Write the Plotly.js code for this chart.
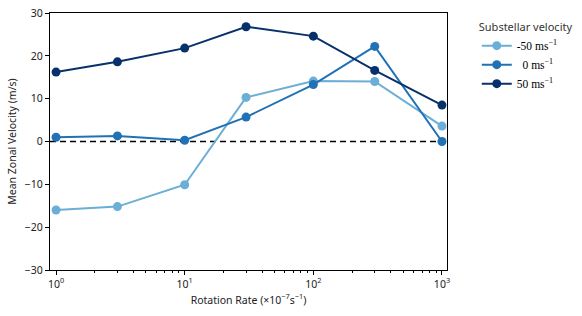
<!DOCTYPE html>
<html><head><meta charset="utf-8">
<script src="https://cdn.plot.ly/plotly-3.0.1.min.js"></script>
<style>html,body{margin:0;padding:0;background:#fff}#chart{width:582px;height:316px}</style>
</head><body><div id="chart"></div>
<script>
const rotationRate = [1, 3, 10, 30, 100, 300, 1000];
const velMinus50 = [-16.0, -15.2, -10.1, 10.3, 14.1, 14.0, 3.6];
const vel0 = [1.0, 1.3, 0.3, 5.7, 13.3, 22.2, 0.0];
const vel50 = [16.2, 18.6, 21.8, 26.8, 24.6, 16.6, 8.5];
const seriesNames = ['-50 ms<sup>−1</sup>', '  0 ms<sup>−1</sup>', '50 ms<sup>−1</sup>'];
const seriesColors = ['#6baed6', '#2171b5', '#08306b'];
const xTickVals = [1, 10, 100, 1000];
const xTickText = ['10<sup>0</sup>', '10<sup>1</sup>', '10<sup>2</sup>', '10<sup>3</sup>'];
const yTickVals = [-30, -20, -10, 0, 10, 20, 30];

const minorVals = [];
for (let d = 1; d < 1000; d *= 10) for (let k = 2; k <= 9; k++) minorVals.push(d * k);

const seriesData = [velMinus50, vel0, vel50];
const traces = seriesData.map((ys, i) => ({
  x: rotationRate, y: ys, type: 'scatter', mode: 'lines+markers',
  name: seriesNames[i],
  line: {color: seriesColors[i], width: 2},
  marker: {color: seriesColors[i], size: 9},
  cliponaxis: false
}));

const font = 'Noto Sans, sans-serif';
const layout = {
  width: 582, height: 316,
  margin: {l: 50, r: 135, t: 13, b: 46, autoexpand: false},
  paper_bgcolor: '#fff', plot_bgcolor: '#fff',
  font: {family: font, size: 10, color: '#222'},
  showlegend: true,
  legend: {
    x: 1.075, y: 0.985, xanchor: 'left', yanchor: 'top',
    title: {text: 'Substellar velocity', font: {family: font, size: 11, color: '#333'}},
    font: {family: 'Liberation Serif, DejaVu Serif, serif', size: 11.5, color: '#000'},
    tracegroupgap: 0, itemwidth: 30
  },
  xaxis: {
    type: 'log', range: [-0.047, 3.039],
    tickvals: xTickVals, ticktext: xTickText,
    ticks: 'outside', ticklen: 4, tickcolor: '#000', tickwidth: 1,
    minor: {tickvals: minorVals, ticks: 'outside', ticklen: 2, tickcolor: '#000'},
    showline: true, linecolor: '#000', linewidth: 1.2, mirror: true,
    showgrid: false, zeroline: false,
    title: {text: 'Rotation Rate (×10<sup>−7</sup>s<sup>−1</sup>)', font: {family: font, size: 10.5}, standoff: 6},
    tickfont: {family: font, size: 10.5}
  },
  yaxis: {
    range: [-30, 30], tickvals: yTickVals,
    ticks: 'outside', ticklen: 4, tickcolor: '#000', tickwidth: 1,
    showline: true, linecolor: '#000', linewidth: 1.2, mirror: true,
    showgrid: false, zeroline: false,
    title: {text: 'Mean Zonal Velocity (m/s)', font: {family: font, size: 10.5}, standoff: 6},
    tickfont: {family: font, size: 10.5}
  },
  shapes: [{type: 'line', xref: 'paper', x0: 0, x1: 1, yref: 'y', y0: 0, y1: 0,
    line: {color: '#000', width: 1.5, dash: '6px,4px'}, layer: 'below'}]
};
Plotly.newPlot('chart', traces, layout, {staticPlot: true, displayModeBar: false});
</script></body></html>
